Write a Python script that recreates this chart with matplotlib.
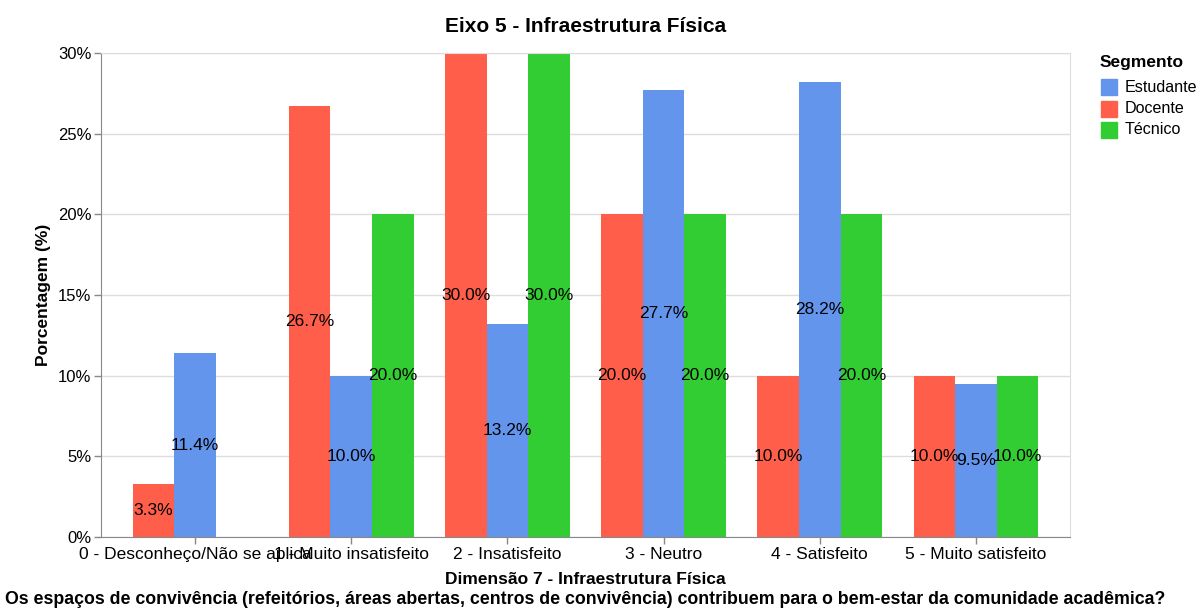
import numpy as np
import matplotlib.pyplot as plt

plt.rcParams['font.family'] = ['Liberation Sans', 'DejaVu Sans']

# Data
categories = ['0 - Desconheço/Não se aplica', '1 - Muito insatisfeito', '2 - Insatisfeito',
              '3 - Neutro', '4 - Satisfeito', '5 - Muito satisfeito']
docente = [3.3, 26.7, 30.0, 20.0, 10.0, 10.0]
estudante = [11.4, 10.0, 13.2, 27.7, 28.2, 9.5]
tecnico = [None, 20.0, 30.0, 20.0, 20.0, 10.0]
y_ticks = [0, 5, 10, 15, 20, 25, 30]

colors = {'Estudante': '#6495ED', 'Docente': '#FF5F4A', 'Técnico': '#32CD32'}

fig = plt.figure(figsize=(11.98, 6.10), dpi=100)
ax = fig.add_axes([101 / 1198, 1 - 537 / 610, 969 / 1198, 484 / 610])

x = np.arange(len(categories))
w = 0.266
series = [('Docente', docente, -w), ('Estudante', estudante, 0), ('Técnico', tecnico, w)]
for name, vals, off in series:
    for xi, v in zip(x, vals):
        if v is None:
            continue
        ax.bar(xi + off, v, width=w, color=colors[name], zorder=2)
        ax.text(xi + off, v / 2, f'{v:.1f}%', ha='center', va='center',
                fontsize=12.5, color='black', zorder=3)

ax.set_xlim(-0.602, 5.602)
ax.set_ylim(0, 30)
ax.set_yticks(y_ticks)
ax.set_yticklabels([f'{t}%' for t in y_ticks], fontsize=12)
ax.set_xticks(x)
ax.set_xticklabels(categories, fontsize=12.5)
ax.grid(axis='y', color='#dddddd', linewidth=1, zorder=0)
ax.tick_params(axis='both', color='#888888', length=5, width=1, pad=2)
for s in ['top', 'right']:
    ax.spines[s].set_color('#dddddd')
for s in ['left', 'bottom']:
    ax.spines[s].set_color('#888888')

ax.set_ylabel('Porcentagem (%)', fontsize=12.5, fontweight='bold', labelpad=5)
fig.text(0.5 * (101 + 1070) / 1198, 1 - 27 / 610, 'Eixo 5 - Infraestrutura Física',
         ha='center', va='center', fontsize=15, fontweight='bold')
fig.text(0.5 * (101 + 1070) / 1198, 1 - 579 / 610, 'Dimensão 7 - Infraestrutura Física',
         ha='center', va='center', fontsize=12.5, fontweight='bold')
fig.text(585 / 1198, 1 - 600 / 610,
         'Os espaços de convivência (refeitórios, áreas abertas, centros de convivência) '
         'contribuem para o bem-estar da comunidade acadêmica?',
         ha='center', va='center', fontsize=12.8, fontweight='bold')

# Legend
fig.text(1100 / 1198, 1 - 62 / 610, 'Segmento', ha='left', va='center',
         fontsize=12.5, fontweight='bold')
for i, name in enumerate(['Estudante', 'Docente', 'Técnico']):
    yc = 1 - (87 + i * 21.5) / 610
    fig.patches.append(plt.Rectangle((1101 / 1198, yc - 8 / 610), 16 / 1198, 16 / 610,
                                     transform=fig.transFigure, color=colors[name]))
    fig.text(1125 / 1198, yc, name, ha='left', va='center', fontsize=11.6)

fig.savefig('out.png', dpi=100)
